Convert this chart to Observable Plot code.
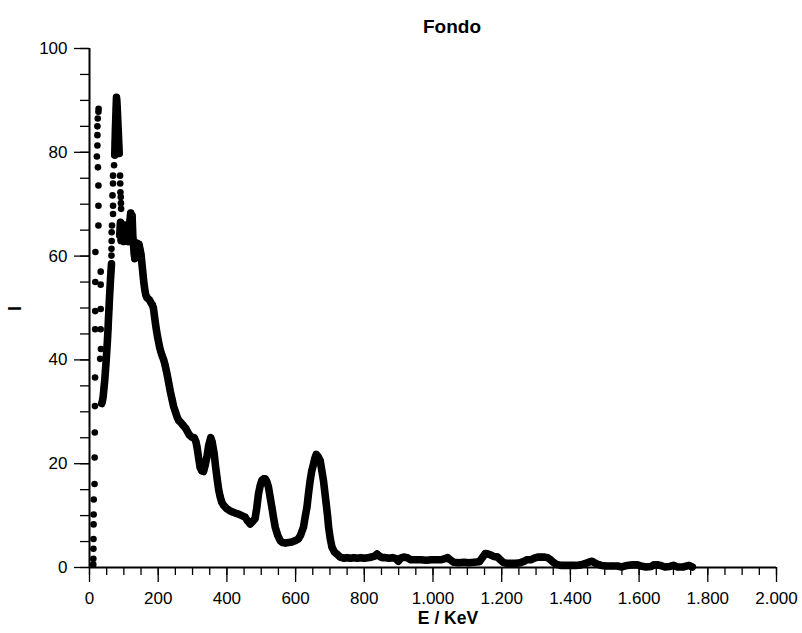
<!DOCTYPE html>
<html><head><meta charset="utf-8">
<script src="https://cdn.jsdelivr.net/npm/d3@7"></script>
<script src="https://cdn.jsdelivr.net/npm/@observablehq/plot@0.6"></script>
<style>body{margin:0;background:#fff}</style>
</head><body><div id="chart"></div>
<script>
// ---- texts & ticks ----
const titleText = "Fondo";
const xLabelText = "E / KeV";
const yLabelText = "I";
const xTicks = [0,200,400,600,800,1000,1200,1400,1600,1800,2000];
const xTickLabels = ["0","200","400","600","800","1.000","1.200","1.400","1.600","1.800","2.000"];
const xMinorTicks = d3.range(0, 2001, 50);
const yTicks = [0,20,40,60,80,100];
const yTickLabels = ["0","20","40","60","80","100"];
const yMinorTicks = d3.range(0, 101, 5);

// ---- isolated points (low-energy X-ray region) ----
const sparseE = [11.0,11.2,11.4,11.6,11.8,12.0,12.3,14.6,15.0,15.4,15.8,16.2,16.5,16.7,16.9,17.2,
  21.5,23,23,23,24,26,26.5,24.5,26,26,26,
  32.6,32.6,32.6,32.6,33.3,31,
  64,64,64.5,64.5,65.5,68.5,68.5,67,68.5,68.5,71.5,73.5,
  89,89.5,90,91,91.5,92];
const sparseI = [0.6,1.7,3.6,5.5,8.3,10.2,13.1,16.1,21.2,26.0,31.1,36.6,45.9,49.4,55.0,60.8,
  79.2,81.3,83.3,85.0,86.5,87.8,88.4,77.1,73.6,69.7,65.9,
  57.0,54.5,49.8,45.9,42.1,40.2,
  60.1,61.4,62.9,64.6,65.9,68.1,69.7,71.7,74.0,75.5,77.5,79.4,
  75.5,74.0,72.3,71.4,70.2,69.1];

// ---- dense rising strip ----
const stripE = [35.5,37.5,39.9,42,44.3,46.5,48.6,50.5,52.4,54,55.3,56.8,58.2,59.7,61.1,62.5,64.0];
const stripI = [31.6,32,33,34.5,36,38,40,42,44,46,48,50,52,53.8,55.5,57,58.5];

// ---- dense top of the second peak ----
const peak2E = [73.5,74.5,75.5,76.5,77.5,78.6,79.5,80.5,81.5,82.5,83.5,84.5,85.5,86.5];
const peak2I = [79.5,82,84.5,86.5,88.5,90.6,90,88.8,87.3,85.8,84.3,82.8,81.2,79.8];

// ---- main continuous spectrum ----
const traceE = [
  88,90,92,94,96,98,100,102,104,106,
  108,110,112,114,116,118,120,122,124,126,
  128,130,132,134,136,138,141,144,147,150,
  152,155,158,161,164,167,171,175,179,183,
  186,189,192,195,198,201,204,208,212,216,
  220,225,230,235,240,245,250,255,260,265,
  270,275,280,285,290,298,305,310,313,318,
  322,327,332,337,342,347,353,357,363,367,
  371,376,380.5,385,390,400,410,420,429,440,
  453,460,468,475,482,487,492,497,502,507,
  511.5,516,521,526,531,536,540.6,548,555,562,
  570,580,589,600,608,615,623,628,633,638,
  642.5,647,652,656,660,665,671.6,676,681,686,
  689,693,696,701,706,713,720,730,740,750,
  760,770,780,790,800,810,820,830,837,844,
  852,862,872,882,892,899,906,915,925,935,
  950,965,980,995,1010,1025,1035,1042,1050,1060,
  1075,1090,1105,1120,1135,1145,1152,1160,1168,1178,
  1188,1196,1204,1215,1225,1240,1254,1265,1274,1285,
  1295,1305,1315,1325,1333,1342,1350,1360,1372,1385,
  1400,1415,1430,1440,1449,1457,1463,1470,1480,1490,
  1505,1520,1537,1550,1565,1580,1595,1605,1620,1635,
  1643,1655,1662,1675,1690,1700,1712,1728,1745,1755];
const traceI = [
  64,66.5,63,66,63,65.5,62.8,66,63.5,65.5,
  63,66,64,62.8,65.5,67,68.3,66.5,67.8,64,
  62.3,60.5,59.5,60.3,61.5,62.5,61.5,62.3,61.3,60.3,
  59,57,55,53.5,52.5,52,51.8,51.5,51,50.6,
  50,48.5,47,45.7,44.5,43.5,42.5,41.5,40.7,40,
  39,37.5,35.8,34,32.5,31,30,29,28.3,28,
  27.6,27.2,26.8,26.2,25.6,25.1,25.0,24.2,23.2,21,
  19.3,18.6,18.5,19.8,21.4,23.5,25.0,24.2,21.9,19.5,
  17.4,15,13.6,12.6,12.0,11.3,10.9,10.6,10.4,10.1,
  9.7,9.0,8.4,8.9,9.4,11.5,14.2,15.8,16.8,17.1,
  17.1,16.6,15.5,13.5,11.6,9.5,7.8,6.2,5.2,4.8,
  4.7,4.8,4.9,5.2,5.5,6.3,7.8,9.8,11.6,14.5,
  16.8,18.6,19.9,21,21.8,21.4,20.6,18.8,16.8,14,
  12.3,10,7.8,5.5,3.9,3.0,2.6,2.0,1.8,1.9,
  1.8,1.9,1.8,1.9,1.8,1.9,2.0,2.2,2.6,2.2,
  1.9,1.9,1.8,1.9,1.7,1.2,1.8,2.0,1.9,1.5,
  1.5,1.5,1.4,1.5,1.5,1.5,1.7,1.9,1.5,1.0,
  0.9,1.0,0.9,1.0,1.1,2.0,2.7,2.6,2.4,2.1,
  2.0,1.5,1.0,0.8,0.8,0.8,0.9,1.2,1.5,1.5,
  1.8,2.0,2.0,2.0,1.9,1.5,1.0,0.6,0.4,0.4,
  0.4,0.4,0.5,0.7,0.9,1.1,1.2,0.9,0.6,0.4,
  0.3,0.3,0.3,0.1,0.4,0.5,0.5,0.3,0.1,0.2,
  0.5,0.5,0.4,0.1,0.2,0.4,0.1,0.1,0.4,0.1];

const pts = (E, I) => E.map((e, i) => ({E: e, I: I[i]}));
const sparse = pts(sparseE, sparseI);
const strip = pts(stripE, stripI);
const peak2 = pts(peak2E, peak2I);
const trace = pts(traceE, traceI);

const font = "'Liberation Sans', Arial, sans-serif";
const lineOpts = {x: "E", y: "I", stroke: "#000", strokeWidth: 7.6, strokeLinecap: "round", strokeLinejoin: "round"};
const dotOpts = {x: "E", y: "I", r: 3.3, fill: "#000", stroke: "none"};

const chart = Plot.plot({
  width: 802, height: 633,
  marginLeft: 89, marginRight: 26, marginTop: 48, marginBottom: 66,
  x: {domain: [0, 2000], axis: null, label: null},
  y: {domain: [0, 100], axis: null, label: null},
  style: {fontFamily: font, fontSize: "17px", color: "#000", background: "#fff", overflow: "visible"},
  marks: [
    Plot.line(strip, lineOpts),
    Plot.line(peak2, lineOpts),
    Plot.line(trace, lineOpts),
    Plot.dot(sparse, dotOpts),
    Plot.dot(strip, dotOpts),
    Plot.dot(peak2, dotOpts),
    Plot.dot(trace, dotOpts),
    Plot.ruleY([0], {stroke: "#000", strokeWidth: 2}),
    Plot.ruleX([0], {stroke: "#000", strokeWidth: 2}),
    Plot.axisX(xMinorTicks, {tickSize: 8, tickFormat: () => "", label: null, strokeWidth: 1.3}),
    Plot.axisX(xTicks, {tickSize: 15, tickPadding: 9, label: null, strokeWidth: 1.3,
      tickFormat: d => xTickLabels[xTicks.indexOf(d)], fontSize: 17}),
    Plot.axisY(yMinorTicks, {tickSize: 9, tickFormat: () => "", label: null, strokeWidth: 1.3}),
    Plot.axisY(yTicks, {tickSize: 15, tickPadding: 7, label: null, strokeWidth: 1.3,
      tickFormat: d => yTickLabels[yTicks.indexOf(d)], fontSize: 17}),
    Plot.text([titleText], {text: d => d, frameAnchor: "top", dy: -29, dx: 19, fontWeight: "bold", fontSize: 19}),
    Plot.text([xLabelText], {text: d => d, frameAnchor: "bottom", dy: 56, dx: 15, fontWeight: "bold", fontSize: 17.5}),
    Plot.text([yLabelText], {text: d => d, frameAnchor: "left", dx: -74, dy: 3, rotate: -90, fontWeight: "bold", fontSize: 18})
  ]
});
document.getElementById("chart").appendChild(chart);
</script>
</body></html>
